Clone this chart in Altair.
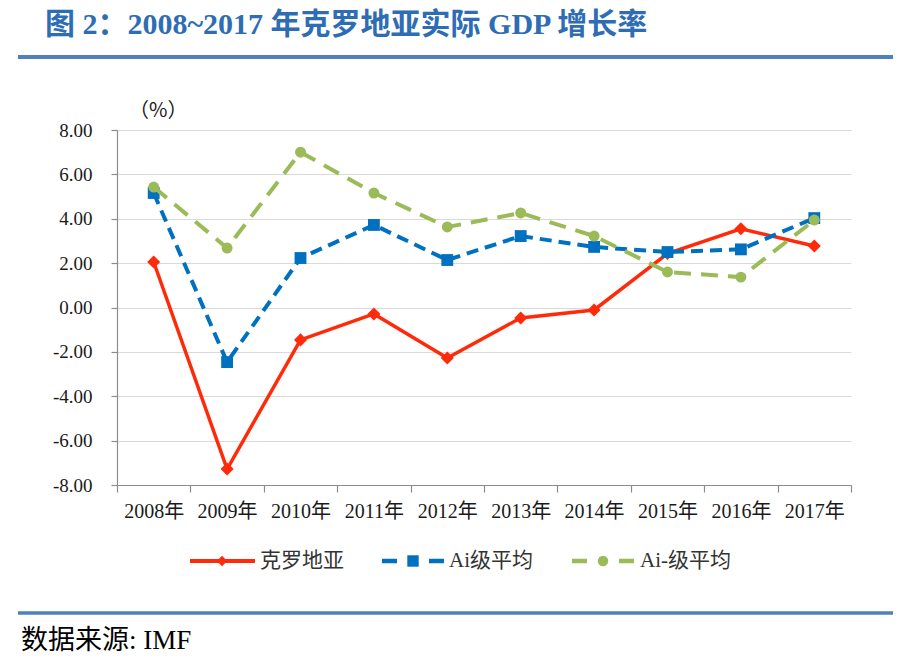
import altair as alt
import pandas as pd

# ---- data ----
years = ["2008年", "2009年", "2010年", "2011年", "2012年",
         "2013年", "2014年", "2015年", "2016年", "2017年"]
croatia = [2.05, -7.28, -1.46, -0.29, -2.28, -0.47, -0.11, 2.43, 3.55, 2.77]
ai_avg = [5.16, -2.46, 2.23, 3.72, 2.14, 3.22, 2.73, 2.50, 2.62, 4.03]
ai_minus_avg = [5.43, 2.68, 7.00, 5.16, 3.63, 4.26, 3.22, 1.60, 1.37, 3.94]
series_names = ["克罗地亚", "Ai级平均", "Ai-级平均"]
y_ticks = [-8, -6, -4, -2, 0, 2, 4, 6, 8]

title_text = "图 2：2008~2017 年克罗地亚实际 GDP 增长率"
unit_text = "（%）"
source_text = "数据来源: IMF"

colors = ["#FF2A0A", "#0070C0", "#9BBB59"]

rows = []
for name, vals in zip(series_names, [croatia, ai_avg, ai_minus_avg]):
    for yr, v in zip(years, vals):
        rows.append({"year": yr, "value": v, "series": name})
long_df = pd.DataFrame(rows)

W, H = 734, 355
SERIF = "Liberation Serif, Noto Sans CJK SC"

x_enc = alt.X(
    "year:N", sort=years,
    scale=alt.Scale(paddingInner=0, paddingOuter=0),
    axis=alt.Axis(title=None, tickBand="extent", grid=False, labelAngle=0,
                  tickSize=7, labelPadding=9, labelFontSize=20, labelFont=SERIF,
                  labelColor="#1a1a1a", domainColor="#8c8c8c", tickColor="#8c8c8c",
                  domainWidth=1.2, tickWidth=1.2),
)
y_enc = alt.Y(
    "value:Q",
    scale=alt.Scale(domain=[-8, 8], nice=False, zero=False),
    axis=alt.Axis(title=None, values=y_ticks,
                  labelExpr="(datum.value < 0 ? '-' : '') + format(abs(datum.value), '.2f')",
                  tickSize=6, labelPadding=19, labelFontSize=19, labelFont=SERIF,
                  labelColor="#1a1a1a", domainColor="#8c8c8c", tickColor="#8c8c8c",
                  domainWidth=1.2, tickWidth=1.2,
                  grid=True, gridColor="#d9d9d9", gridWidth=1.2),
)

base = alt.Chart(long_df)

line_styles = [
    dict(strokeWidth=3.5),
    dict(strokeWidth=4, strokeDash=[12, 7]),
    dict(strokeWidth=4, strokeDash=[17, 10]),
]
point_styles = [
    dict(shape="diamond", size=170),
    dict(shape="square", size=140),
    dict(shape="circle", size=120),
]

layers = []
for name, col, ls, ps in zip(series_names, colors, line_styles, point_styles):
    sub = base.transform_filter(alt.datum.series == name)
    layers.append(sub.mark_line(color=col, **ls).encode(x=x_enc, y=y_enc))
    layers.append(sub.mark_point(color=col, filled=True, opacity=1, **ps)
                  .encode(x=x_enc, y=y_enc))

# ---- legend (custom, drawn below the axis) ----
LY = 431
leg_geo = [
    (73, 138, 105, 143, dict(strokeWidth=4), dict(shape="diamond", size=110)),
    (265, 327, 296, 332, dict(strokeWidth=4.5, strokeDash=[15, 32]), dict(shape="square", size=130)),
    (455, 517, 486, 523, dict(strokeWidth=4.5, strokeDash=[15, 32]), dict(shape="circle", size=110)),
]
for name, col, (x0, x1, xm, xt, lst, pst) in zip(series_names, colors, leg_geo):
    one = alt.Chart(pd.DataFrame({"label": [name]}))
    layers.append(one.mark_rule(color=col, **lst).encode(
        x=alt.value(x0), x2=alt.value(x1), y=alt.value(LY)))
    layers.append(one.mark_point(color=col, filled=True, opacity=1, **pst).encode(
        x=alt.value(xm), y=alt.value(LY)))
    layers.append(one.mark_text(align="left", baseline="middle", fontSize=21,
                                font=SERIF, color="#333333").encode(
        x=alt.value(xt), y=alt.value(LY), text="label:N"))

# ---- title, rules, unit label, source ----
t = alt.Chart(pd.DataFrame({"label": [title_text]}))
layers.append(t.mark_text(align="left", baseline="middle", fontSize=30, fontWeight="bold",
                          font=SERIF, color="#2E6DB4").encode(
    x=alt.value(-72), y=alt.value(-105), text="label:N"))
layers.append(t.mark_rule(color="#4F81BD", strokeWidth=4).encode(
    x=alt.value(-99), x2=alt.value(776), y=alt.value(-73)))
layers.append(t.mark_rule(color="#4F81BD", strokeWidth=3.5).encode(
    x=alt.value(-99), x2=alt.value(776), y=alt.value(483)))

u = alt.Chart(pd.DataFrame({"label": [unit_text]}))
layers.append(u.mark_text(align="left", baseline="middle", fontSize=20,
                          font="Noto Sans CJK SC", color="#1a1a1a").encode(
    x=alt.value(12), y=alt.value(-19), text="label:N"))

s = alt.Chart(pd.DataFrame({"label": [source_text]}))
layers.append(s.mark_text(align="left", baseline="middle", fontSize=27,
                          font=SERIF, color="#000000").encode(
    x=alt.value(-96), y=alt.value(511), text="label:N"))

chart = alt.layer(*layers).properties(
    width=W, height=H,
    padding={"left": 109, "top": 122, "right": 49, "bottom": 175},
    autosize=alt.AutoSizeParams(type="none"),
    background="white",
).configure_view(stroke=None)

chart.save("out.html", embed_options={"renderer": "svg", "actions": False})
